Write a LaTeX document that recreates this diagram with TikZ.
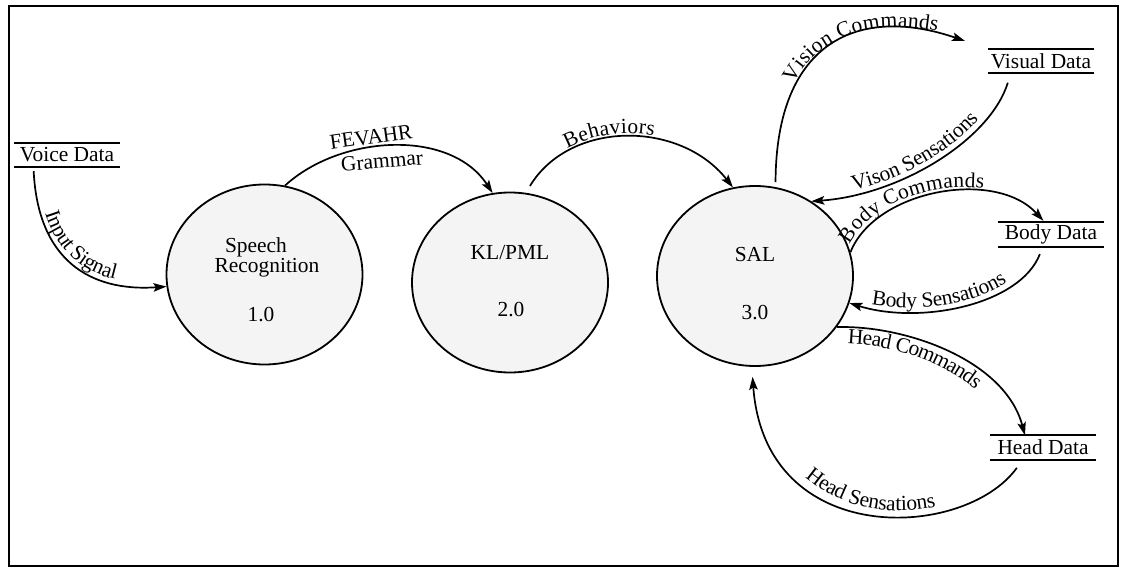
\documentclass[tikz,border=0pt]{standalone}
\usepackage{fontspec}
\setmainfont{Liberation Serif}
\usetikzlibrary{arrows.meta,shapes.geometric,decorations.text}
\newcommand\dfdfont{\fontsize{21.5}{24}\selectfont}

\begin{document}
\begin{tikzpicture}[x=1bp,y=-1bp,
  process/.style={ellipse, draw, line width=1.8bp, fill=gray!9, inner sep=0pt,
    minimum width=196bp, minimum height=180bp},
  lbl/.style={font=\dfdfont, inner sep=0pt},
  storeline/.style={line width=1.8bp, -},
  store/.style={font=\dfdfont, inner sep=0pt, minimum height=24bp, minimum width=106bp,
    append after command={(\tikzlastnode.north west) edge[storeline] (\tikzlastnode.north east)
                          (\tikzlastnode.south west) edge[storeline] (\tikzlastnode.south east)}},
  flow/.style={line width=1.7bp, -{Stealth[length=13bp,width=8.5bp,inset=2.5bp]}},
  along/.style n args={3}{decorate, decoration={text along path, text={|\dfdfont|#1},
    text align={left indent=#2}, raise=#3}},
]
\useasboundingbox (0,0) rectangle (1123,569);

% outer frame
\draw[line width=2.2bp] (9,6) rectangle (1118,566);

% processes
\node[process] (sr)  at (264.5,274.5) {};
\node[process] (kl)  at (510,282.5) {};
\node[process] (sal) at (755,276) {};

\node[lbl] (srname1) at (256,247) {Speech};
\node[lbl] (srname2) at (267,268) {Recognition};
\node[lbl] (srnum)   at (261,315) {1.0};
\node[lbl] (klname)  at (510,253) {KL/PML};
\node[lbl] (klnum)   at (511,310) {2.0};
\node[lbl] (salname) at (755,255) {SAL};
\node[lbl] (salnum)  at (755,313) {3.0};

% data stores
\node[store] (vd)  at (67,155)     {Voice Data};
\node[store] (vis) at (1041,61)    {Visual Data};
\node[store] (bd)  at (1051,234.5) {Body Data};
\node[store] (hd)  at (1043,447.5) {Head Data};

% Voice Data -> Speech Recognition
\draw[flow, shorten <=4bp] (vd.200) .. controls (38,260) and (90,292) .. (sr.187);
\path[along={Input Signal}{48bp}{4bp}] (vd.200) .. controls (38,260) and (90,292) .. (sr.187);

% Speech Recognition -> KL/PML
\draw[flow] (sr.77) .. controls (340,135) and (450,128) .. (kl.101);
\node[lbl, rotate=8] (fevahr)  at (371,137) {FEVAHR};
\node[lbl, rotate=5] (grammar) at (382,161) {Grammar};

% KL/PML -> SAL
\draw[flow, shorten <=8bp] (kl.80) .. controls (570,120) and (680,120) .. (sal.104);
\path[along={Behaviors}{60bp}{4bp}] (kl.80) .. controls (570,120) and (680,120) .. (sal.104);

% SAL <-> Visual Data
\draw[flow, shorten <=5bp, shorten >=24bp] (sal.77) .. controls (776,40) and (860,5) .. (vis.north west);
\path[along={Vision Commands}{105bp}{4bp}] (sal.77) .. controls (776,40) and (860,5) .. (vis.north west);
\draw[flow, shorten <=10bp] (vis.202) .. controls (990,140) and (900,195) .. (sal.53);
\path[along={Vison Sensations}{44bp}{4bp}] (sal.53) .. controls (900,195) and (990,140) .. (vis.202);

% SAL <-> Body Data
\draw[flow, shorten >=2bp] (sal.14) .. controls (875,190) and (995,168) .. (bd.117);
\path[along={Body Commands}{6bp}{4bp}] (sal.14) .. controls (875,190) and (995,168) .. (bd.117);
\draw[flow, shorten <=8bp] (bd.236) .. controls (1020,305) and (920,325) .. (sal.-16);
\path[along={Body Sensations}{22bp}{4bp}] (sal.-16) .. controls (920,325) and (1020,305) .. (bd.236);

% SAL <-> Head Data
\draw[flow] (sal.-32) .. controls (905,325) and (1005,360) .. (hd.146);
\path[along={Head Commands}{12bp}{-17bp}] (sal.-32) .. controls (905,325) and (1005,360) .. (hd.146);
\draw[flow, shorten <=10bp, shorten >=10bp] (hd.211) .. controls (965,540) and (765,550) .. (sal.-92);
\path[along={Head Sensations}{128bp}{4bp}] (sal.-92) .. controls (765,550) and (965,540) .. (hd.211);
\end{tikzpicture}
\end{document}
